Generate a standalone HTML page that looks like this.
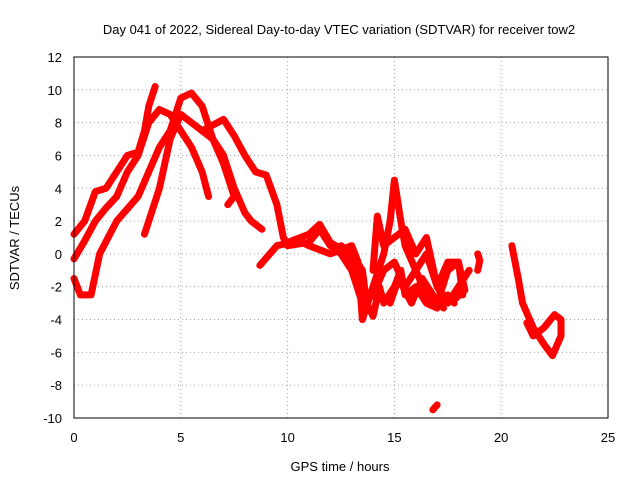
<!DOCTYPE html>
<html><head><meta charset="utf-8"><style>
body{margin:0;background:#fff;}
svg{display:block;font-family:"Liberation Sans",sans-serif;font-size:13px;}
</style></head><body>
<svg width="640" height="480" id="c">
<text x="339" y="34" text-anchor="middle">Day 041 of 2022, Sidereal Day-to-day VTEC variation (SDTVAR) for receiver tow2</text>
<text x="340" y="471" text-anchor="middle">GPS time / hours</text>
<text transform="translate(19,238) rotate(-90)" text-anchor="middle">SDTVAR / TECUs</text>
<g id="grid"></g>
<g id="ticks"></g>
<g id="series"></g>
<rect x="74" y="57" width="534" height="361" fill="none" stroke="#000"/>
</svg>
<script>
const xTicks=[0,5,10,15,20,25];
const yTicks=[-10,-8,-6,-4,-2,0,2,4,6,8,10,12];
const track1=[[0,-0.3],[0.5,0.8],[1,2],[1.5,2.8],[2,3.5],[2.5,5],[3,6],[3.5,8],[4,8.8],[4.5,8.5],[5,7.5],[5.5,6.5],[6,5],[6.3,3.5]];
const track2=[[0,1.2],[0.5,2],[1,3.8],[1.5,4],[2,5],[2.5,6],[3,6.2],[3.3,7.5],[3.5,9],[3.8,10.2]];
const track3=[[0,-1.5],[0.3,-2.5],[0.8,-2.5],[1.2,0],[2,2],[3,3.5],[3.5,5],[4,6.5],[4.5,7.5],[5,9.5],[5.5,9.8],[6,9],[6.5,7],[7,5.5],[7.5,3.5],[7.2,3]];
const track4=[[3.3,1.2],[4,4],[4.5,7],[5,8.5],[5.5,8],[6,7.5],[6.5,7],[7,6],[7.5,4],[8,2.5],[8.3,2],[8.8,1.5]];
const track5=[[6,7.5],[7,8.2],[7.5,7.2],[8,6],[8.5,5],[9,4.8],[9.5,3],[9.8,1],[10,0.5],[11,0.7],[11.5,1.5],[12,0.5],[12.5,0],[13,-1],[13.5,-3],[14,-2.5],[14.5,-1],[15,-0.5],[15.5,-2],[16,-1],[16.5,-2.5],[17,-3],[17.5,-1],[18,-0.5],[18.2,-2.5]];
const track6=[[8.7,-0.7],[9.5,0.5],[10.5,0.8],[11,0.5],[12,0],[13,0.5],[13.3,-0.5],[13.5,-4],[14,-2],[14.5,0],[14.8,2],[15,4.5],[15.3,2],[15.5,0.5],[16,-1],[16.5,0],[17,-2],[17.5,-3],[18,-2],[18.5,-1]];
const track7=[[16.8,-9.5],[17,-9.2]];
const track8=[[18.9,0],[19,-0.4],[18.9,-1]];
const track9=[[20.5,0.5],[20.8,-1.5],[21,-3],[21.5,-4.5],[22,-5.5],[22.4,-6.2],[22.8,-5],[22.8,-4],[22.5,-3.7],[22,-4.5],[21.5,-5],[21.2,-4.2]];
const track10=[[12.5,0.5],[13,0],[13.5,-1],[13.7,-3],[14,-3.8],[14.3,-2],[14.5,-3],[15,-2],[15.3,-1],[15.5,-2.5],[16,-2],[16.5,-3],[17,-3.3],[17.5,-2.5],[17.8,-3]];
const track11=[[14,-1],[14.2,2.3],[14.5,0.5],[15,1],[15.5,1.5],[16,0],[16.5,1],[17,-2],[17.5,-0.5],[18,-0.5],[18.3,-2.2],[17.8,-2.8],[17.3,-2.5]];
const track12=[[10,0.7],[11,1.2],[11.5,1.8],[12,0.7],[12.5,0.3],[13,-0.2],[13.3,-1.5],[13.6,-2.5]];
const track13=[[14.8,-3],[15.2,-1.5],[15.8,-3],[16.3,-1.5],[16.8,-2.5],[17.3,-3.3]];
const tracks=[track1,track2,track3,track4,track5,track6,track7,track8,track9,track10,track11,track12,track13];
const X=v=>74+v*534/25, Y=v=>418-(v+10)*361/22;
const NS="http://www.w3.org/2000/svg";
const g=document.getElementById('grid'),t=document.getElementById('ticks'),s=document.getElementById('series');
function mk(tag,a,p){const e=document.createElementNS(NS,tag);for(const k in a)e.setAttribute(k,a[k]);p.appendChild(e);return e;}
xTicks.forEach(v=>{
 const l=mk('line',{x1:X(v),x2:X(v),y1:57,y2:418,stroke:'#a0a0a0','stroke-dasharray':'1,3'},g);
 
 
 const tx=mk('text',{x:X(v),y:442,'text-anchor':'middle'},t);tx.textContent=v;
 
 
});
yTicks.forEach(v=>{
 const l=mk('line',{x1:74,x2:608,y1:Y(v),y2:Y(v),stroke:'#a0a0a0','stroke-dasharray':'1,3'},g);
 
 
 const tx=mk('text',{x:62,y:Y(v)+5,'text-anchor':'end'},t);tx.textContent=v;
 
 
});
tracks.forEach(tr=>{
 const p=mk('polyline',{points:tr.map(d=>X(d[0])+','+Y(d[1])).join(' '),fill:'none',stroke:'#ff0000','stroke-width':7,'stroke-linejoin':'round','stroke-linecap':'round'},s);
 
 
});
</script>
</body></html>
